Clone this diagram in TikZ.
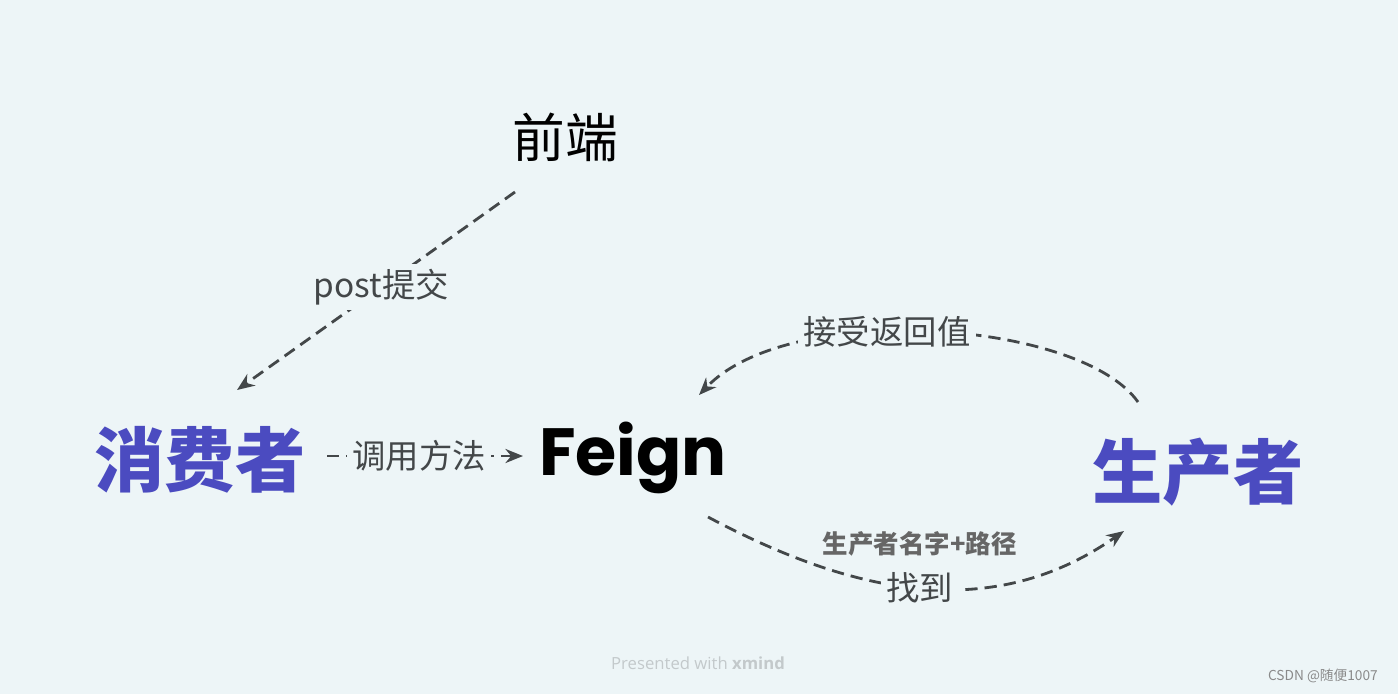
\documentclass[tikz,border=0pt]{standalone}
\usepackage{fontspec}
\usepackage{tikz}
\usetikzlibrary{arrows.meta}
\setmainfont{Open Sans}
\newfontfamily\cjk{Noto Sans CJK SC}
\newfontfamily\feignfont{Poppins}
\definecolor{XmBack}{HTML}{EDF5F7}
\definecolor{XmPurple}{HTML}{4B4BC0}
\definecolor{XmLine}{HTML}{434749}
\definecolor{XmGray}{HTML}{666666}
\definecolor{XmFoot}{HTML}{C3C9CB}
\definecolor{XmMark}{HTML}{8A8A8A}
\tikzset{
    % Node styles
    rolebox/.style={
        font=\cjk\bfseries\fontsize{40}{44}\selectfont,
        text=XmPurple,
        inner sep=2pt
    },
    frontbox/.style={
        font=\cjk\fontsize{30}{34}\selectfont,
        text=black,
        inner sep=2pt
    },
    feignbox/.style={
        font=\feignfont\bfseries\fontsize{38}{42}\selectfont,
        text=black,
        inner sep=2pt
    },
    linklabel/.style={
        font=\cjk\fontsize{19}{22}\selectfont,
        fill=XmBack,
        inner sep=3pt
    },
    notelabel/.style={
        font=\cjk\bfseries\fontsize{14.5}{17}\selectfont,
        text=XmGray
    },
    % Arrow styles
    dasharrow/.style={
        -{Stealth[length=10pt,width=8pt]},
        line width=1.6pt,
        XmLine,
        dash pattern=on 7pt off 4pt
    }
}
\begin{document}
\begin{tikzpicture}[x=0.02cm, y=-0.02cm]
    % Background
    \fill[XmBack] (0,0) rectangle (1398,694);

    \node[frontbox] (qianduan) at (565,137) {前端};
    \node[rolebox] (xiaofei) at (200,460) {消费者};
    \node[feignbox] (feign) at (633,458) {Feign};
    \node[rolebox] (shengchan) at (1198,472) {生产者};

    % Connectors
    \draw[dasharrow] ([shift={(-50,55)}]qianduan.center) -- node[linklabel, pos=0.48] {post提交} ([shift={(37,-70)}]xiaofei.center);
    \draw[dasharrow] ([shift={(127,-4)}]xiaofei.center) -- node[linklabel, pos=0.47] {调用方法} ([shift={(-110,-2)}]feign.center);
    \draw[dasharrow] ([shift={(-60,-70)}]shengchan.center) .. controls (1080,320) and (790,300) .. node[linklabel, pos=0.58] {接受返回值} ([shift={(66,-63)}]feign.center);
    \draw[dasharrow] ([shift={(75,59)}]feign.center) to[out=-28, in=215] node[linklabel, pos=0.5] (zhaodao) {找到} node[notelabel, pos=0.5, yshift=25pt] {生产者名字+路径} ([shift={(-74,59)}]shengchan.center);

    % Footer
    \node[text=XmFoot, font=\fontsize{9.5}{11}\selectfont] (footer) at (698,663) {Presented with \textbf{xmind}};
    \node[text=XmMark, font=\cjk\fontsize{7.8}{9}\selectfont, anchor=east] (mark) at (1384,676) {CSDN @随便1007};
\end{tikzpicture}
\end{document}
